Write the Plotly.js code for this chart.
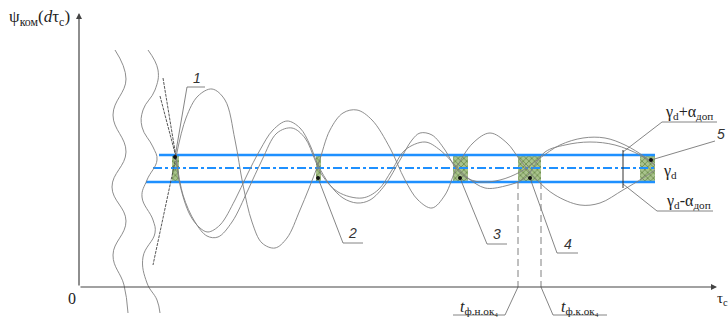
<!DOCTYPE html>
<html>
<head>
<meta charset="utf-8">
<script src="https://cdn.plot.ly/plotly-3.0.1.min.js"></script>
<style>
  html, body { margin: 0; padding: 0; background: #fff; }
  #myPlot { width: 728px; height: 329px; }
</style>
</head>
<body>
<div id="myPlot"></div>
<script>
// Diagram units: x = tau_c from the vertical axis, y = psi from the horizontal axis

// tolerance band
const bandTop = 132;
const bandMid = 119;
const bandBottom = 105;
const bandTopX = [80, 576];
const bandMidX = [74, 576];
const bandBottomX = [67, 576];

// coincidence windows 1..5 (hatched)
const windowStart = [93, 237, 374, 439, 561];
const windowEnd = [100, 242, 389, 462, 576];
const windowNames = ["1", "2", "3", "4", "5"];
const dotX = [96, 239, 381, 451, 572];
const dotY = [130, 109, 109, 109, 127];

// psi curves
const curveAx = [97, 107, 119, 133, 146, 156, 164, 173, 183, 196, 208, 221, 239, 251, 264, 278, 293, 311, 326, 339, 353, 366, 378, 394, 411, 428, 441, 458, 476, 501, 521, 544, 564, 576];
const curveAy = [130, 169, 191, 198, 187, 147, 102, 65, 44, 39, 49, 77, 122, 157, 174, 177, 167, 139, 107, 87, 79, 92, 120, 144, 154, 144, 127, 107, 92, 82, 84, 97, 109, 117];
const curveBx = [97, 101, 111, 121, 129, 141, 156, 168, 181, 194, 208, 221, 231, 239, 251, 264, 278, 291, 306, 321, 333, 341, 353, 366, 376, 386, 401, 421, 441, 461, 481, 504, 526, 546, 566, 576];
const curveBy = [130, 102, 72, 59, 55, 62, 87, 112, 137, 157, 166, 159, 142, 122, 102, 89, 84, 87, 102, 127, 147, 154, 152, 137, 120, 110, 105, 107, 115, 129, 142, 149, 149, 142, 130, 122];
const curveCx = [97, 104, 116, 128, 139, 153, 169, 183, 198, 213, 226, 236, 243, 259, 283, 299, 313, 326, 346, 361, 376, 389, 406, 426, 446, 466, 486, 511, 536, 561, 576];
const curveCy = [130, 92, 65, 51, 50, 65, 97, 127, 154, 159, 149, 127, 112, 95, 89, 97, 117, 137, 145, 137, 122, 109, 99, 101, 109, 135, 142, 145, 142, 132, 122];

// axis break lines
const break1x = [36, 47, 34, 47, 33, 47, 34, 45, 49];
const break1y = [237, 208, 172, 135, 100, 66, 32, 2, -26];
const break2x = [69, 79, 76, 64, 63, 74, 78, 68, 63, 74, 76, 64, 68, 78, 81];
const break2y = [237, 217, 197, 177, 160, 140, 127, 107, 90, 67, 54, 30, 4, -13, -26];

// straight construction lines at window 1
const rays = [
  { x: [84, 97], y: [209, 130] },
  { x: [81, 97], y: [191, 130] },
  { x: [97, 74], y: [130, 22] },
];

// leader lines
const leaders = [
  { x: [96, 108, 126], y: [130, 200, 200] },
  { x: [239, 264, 284], y: [109, 44, 44] },
  { x: [381, 408, 428], y: [109, 43, 43] },
  { x: [451, 478, 499], y: [109, 34, 34] },
  { x: [572, 636], y: [127, 146] },
  { x: [544, 583, 638], y: [135, 165, 165] },
  { x: [544, 578, 634], y: [103, 76, 76] },
  { x: [439, 426, 374], y: [0, -28, -28] },
  { x: [462, 474, 528], y: [0, -28, -28] },
];
const limitX = [544, 544];
const limitY = [137, 99];
const windowEdgeX = [439, 462];

const grey = "#808080";
const blue = "rgb(30,144,255)";
const serif = "Liberation Serif";
const sans = "Liberation Sans";

const traces = [];

// hatched windows
windowStart.forEach((x0, i) => {
  const x1 = windowEnd[i];
  traces.push({
    x: [x0, x1, x1, x0, x0],
    y: [bandBottom, bandBottom, bandTop, bandTop, bandBottom],
    mode: "lines",
    fill: "toself",
    line: { width: 0 },
    fillcolor: "#9db97e",
    fillpattern: { shape: "x", fgcolor: "#5b7d3c", bgcolor: "#a9c38c", size: 4, solidity: 0.3 },
    name: "window " + windowNames[i],
  });
});

// band lines
traces.push({ x: bandTopX, y: [bandTop, bandTop], mode: "lines", line: { color: blue, width: 2.5 } });
traces.push({ x: bandBottomX, y: [bandBottom, bandBottom], mode: "lines", line: { color: blue, width: 2.5 } });
traces.push({ x: bandMidX, y: [bandMid, bandMid], mode: "lines", line: { color: blue, width: 2, dash: "dashdot" } });

// curves
[[curveAx, curveAy], [curveBx, curveBy], [curveCx, curveCy]].forEach(([cx, cy]) => {
  traces.push({ x: cx, y: cy, mode: "lines", line: { color: grey, width: 0.9, shape: "spline", smoothing: 1 } });
});
traces.push({ x: break1x, y: break1y, mode: "lines", line: { color: grey, width: 0.9, shape: "spline", smoothing: 1.2 } });
traces.push({ x: break2x, y: break2y, mode: "lines", line: { color: grey, width: 0.9, shape: "spline", smoothing: 1.2 } });

rays.forEach((r) => {
  traces.push({ x: r.x, y: r.y, mode: "lines", line: { color: "#444", width: 0.9, dash: "3px,1px" } });
});
leaders.forEach((l) => {
  traces.push({ x: l.x, y: l.y, mode: "lines", line: { color: "#666", width: 0.8 } });
});
traces.push({ x: limitX, y: limitY, mode: "lines", line: { color: "#333", width: 1 } });
windowEdgeX.forEach((x) => {
  traces.push({ x: [x, x], y: [bandBottom, 0], mode: "lines", line: { color: grey, width: 1, dash: "7px,4px" } });
});

// points in windows
traces.push({ x: dotX, y: dotY, mode: "markers", marker: { color: "#111", size: 4 } });

const label = (x, y, text, size, family, color) => ({
  x: x, y: y, text: text, showarrow: false,
  font: { family: family || serif, size: size, color: color || "#222" },
});

const annotations = [
  // axes
  { x: 0, y: 274, ax: 0, ay: 0, axref: "x", ayref: "y", text: "", showarrow: true, arrowhead: 2, arrowsize: 1, arrowwidth: 1.2, arrowcolor: "#444" },
  { x: 638, y: 0, ax: 0, ay: 0, axref: "x", ayref: "y", text: "", showarrow: true, arrowhead: 2, arrowsize: 1, arrowwidth: 1.2, arrowcolor: "#444" },
  label(-40, 269, "ψ<sub>ком</sub>(<i>d</i>τ<sub>c</sub>)", 17),
  label(-7, -11, "0", 16),
  label(643, -12, "τ<sub>c</sub>", 15),
  // numbered windows
  label(118, 209, "<i>1</i>", 14, sans, "#333"),
  label(273, 54, "<i>2</i>", 14, sans, "#333"),
  label(418, 53, "<i>3</i>", 14, sans, "#333"),
  label(489, 43, "<i>4</i>", 14, sans, "#333"),
  label(642, 153, "<i>5</i>", 14, sans, "#333"),
  // band labels
  label(610, 175, "γ<sub>d</sub>+α<sub>доп</sub>", 16),
  label(591, 116, "γ<sub>d</sub>", 16),
  label(609, 86, "γ<sub>d</sub>-α<sub>доп</sub>", 16),
  // window 4 limits
  label(400, -20, "<i>t</i><sub>ф.н.ок₄</sub>", 16),
  label(501, -20, "<i>t</i><sub>ф.к.ок₄</sub>", 16),
];

const layout = {
  width: 728,
  height: 329,
  margin: { l: 0, r: 0, t: 0, b: 0, pad: 0 },
  paper_bgcolor: "#fff",
  plot_bgcolor: "#fff",
  showlegend: false,
  font: { family: serif },
  xaxis: { range: [-79, 649], visible: false, fixedrange: true },
  yaxis: { range: [-42, 287], visible: false, fixedrange: true },
  annotations: annotations,
};

Plotly.newPlot("myPlot", traces, layout, { staticPlot: true });
</script>
</body>
</html>
